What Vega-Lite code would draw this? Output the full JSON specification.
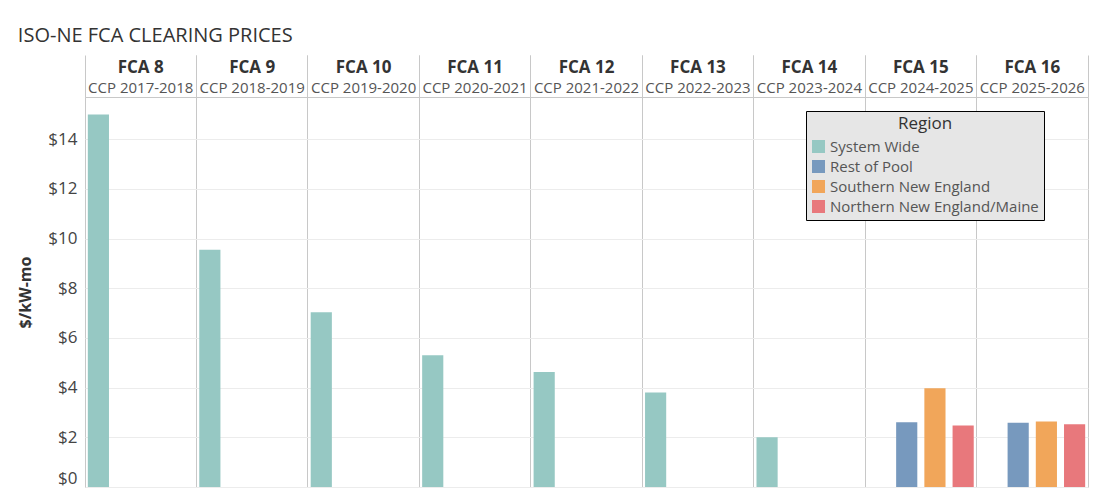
{
  "$schema": "https://vega.github.io/schema/vega-lite/v6.json",
  "width": 1003,
  "height": 390,
  "autosize": {"type": "none"},
  "padding": {"left": 85, "top": 97, "right": 12, "bottom": 13},
  "config": {
    "font": "Open Sans",
    "view": {"stroke": "#c8c8c8"},
    "axis": {"domain": false, "ticks": false}
  },
  "title": {
    "text": "ISO-NE FCA CLEARING PRICES",
    "anchor": "start",
    "frame": "bounds",
    "fontSize": 20,
    "fontWeight": "normal",
    "color": "#333333",
    "offset": 9
  },
  "data": {
    "values": [
      {"auction": "FCA 8|CCP 2017-2018", "region": "System Wide", "price": 15.0},
      {"auction": "FCA 9|CCP 2018-2019", "region": "System Wide", "price": 9.55},
      {"auction": "FCA 10|CCP 2019-2020", "region": "System Wide", "price": 7.03},
      {"auction": "FCA 11|CCP 2020-2021", "region": "System Wide", "price": 5.30},
      {"auction": "FCA 12|CCP 2021-2022", "region": "System Wide", "price": 4.63},
      {"auction": "FCA 13|CCP 2022-2023", "region": "System Wide", "price": 3.80},
      {"auction": "FCA 14|CCP 2023-2024", "region": "System Wide", "price": 2.00},
      {"auction": "FCA 15|CCP 2024-2025", "region": "Rest of Pool", "price": 2.61},
      {"auction": "FCA 15|CCP 2024-2025", "region": "Southern New England", "price": 3.98},
      {"auction": "FCA 15|CCP 2024-2025", "region": "Northern New England/Maine", "price": 2.48},
      {"auction": "FCA 16|CCP 2025-2026", "region": "Rest of Pool", "price": 2.59},
      {"auction": "FCA 16|CCP 2025-2026", "region": "Southern New England", "price": 2.64},
      {"auction": "FCA 16|CCP 2025-2026", "region": "Northern New England/Maine", "price": 2.53}
    ]
  },
  "layer": [
    {
      "mark": {"type": "bar", "opacity": 0},
      "encoding": {
        "x": {
          "field": "auction", "type": "nominal", "sort": null,
          "scale": {"paddingInner": 0, "paddingOuter": 0},
          "axis": {
            "orient": "top", "title": null, "labels": false,
            "ticks": true, "tickSize": 42, "tickColor": "#c8c8c8", "bandPosition": 0,
            "grid": true, "gridColor": "#c8c8c8"
          }
        }
      }
    },
    {
      "mark": {"type": "bar", "opacity": 0},
      "encoding": {
        "x": {
          "field": "auction", "type": "nominal", "sort": null,
          "axis": {
            "orient": "top", "title": null, "labels": false,
            "ticks": true, "tickSize": 42, "tickColor": "#c8c8c8", "bandPosition": 1,
            "grid": false
          }
        }
      }
    },
    {
      "mark": {"type": "bar", "opacity": 0},
      "encoding": {
        "x": {
          "field": "auction", "type": "nominal", "sort": null,
          "axis": {
            "orient": "top", "title": null, "grid": false,
            "labelExpr": "split(datum.value, '|')[1]",
            "labelFontSize": 15, "labelColor": "#555555", "labelPadding": 2,
            "labelAngle": 0
          }
        }
      }
    },
    {
      "mark": {"type": "bar"},
      "encoding": {
        "x": {
          "field": "auction", "type": "nominal", "sort": null,
          "axis": {
            "orient": "top", "title": null, "grid": false,
            "labelExpr": "split(datum.value, '|')[0]",
            "labelFontSize": 17, "labelFontWeight": "bold", "labelColor": "#333333",
            "labelPadding": 21, "labelAngle": 0
          }
        },
        "xOffset": {
          "field": "region", "type": "nominal",
          "scale": {
            "domain": ["System Wide", "Rest of Pool", "Southern New England", "Northern New England/Maine"],
            "paddingInner": 0.25, "paddingOuter": 0.1
          }
        },
        "y": {
          "field": "price", "type": "quantitative",
          "scale": {"domain": [0, 15.7], "nice": false},
          "axis": {
            "title": "$/kW-mo", "titleFontSize": 16, "titleFontWeight": "bold", "titleColor": "#333333",
            "titlePadding": 14,
            "values": [0, 2, 4, 6, 8, 10, 12, 14], "format": "$,.0f",
            "labelFontSize": 17, "labelColor": "#444444", "labelPadding": 8, "labelFlush": true,
            "grid": true, "gridColor": "#ececec"
          }
        },
        "color": {
          "field": "region", "type": "nominal", "title": "Region",
          "scale": {
            "domain": ["System Wide", "Rest of Pool", "Southern New England", "Northern New England/Maine"],
            "range": ["#96c8c3", "#7799be", "#f1a65a", "#e8787c"]
          },
          "legend": {
            "orient": "none", "legendX": 721, "legendY": 14,
            "fillColor": "#e6e6e6", "strokeColor": "#000000", "padding": 5,
            "titleFontSize": 17, "titleFontWeight": "normal", "titleColor": "#333333",
            "titleAnchor": "middle", "titlePadding": 6,
            "labelFontSize": 15, "labelColor": "#555555", "labelLimit": 300,
            "symbolType": "square", "symbolSize": 170, "symbolStrokeWidth": 0, "symbolOpacity": 1,
            "rowPadding": 4
          }
        },
        "tooltip": [
          {"field": "region", "type": "nominal"},
          {"field": "price", "type": "quantitative", "format": "$.2f"}
        ]
      }
    }
  ],
  "resolve": {"axis": {"x": "independent"}}
}
